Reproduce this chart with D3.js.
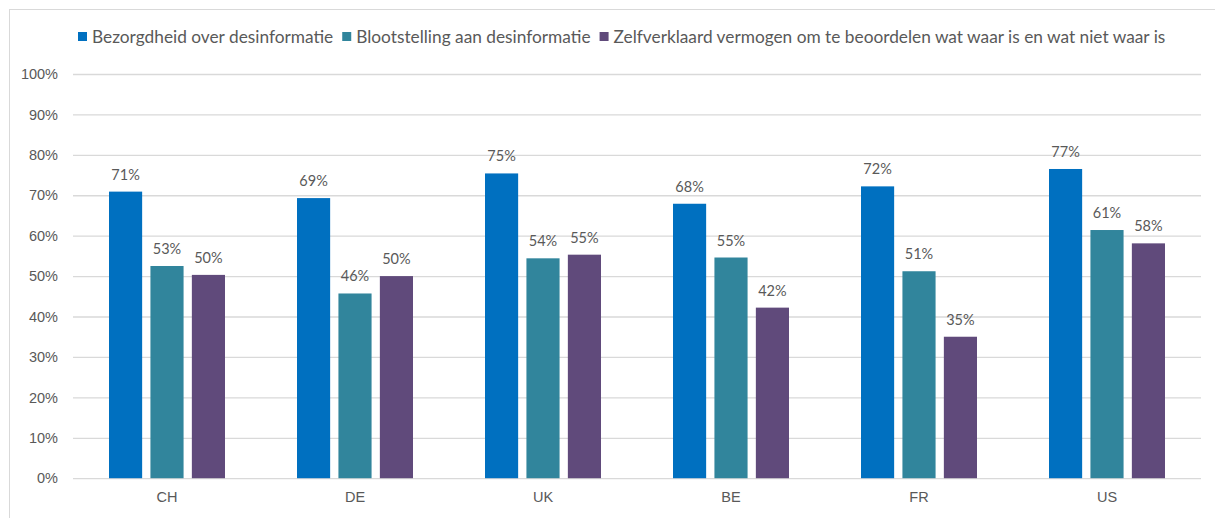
<!DOCTYPE html>
<html>
<head>
<meta charset="utf-8">
<script src="https://cdn.jsdelivr.net/npm/d3@7"></script>
<style>
    body { margin: 0; background: #fff; }
    svg { display: block; font-family: Lato, "Open Sans", sans-serif; }
</style>
</head>
<body>
<div id="chart"></div>
<script>
// data
var categories = ["CH", "DE", "UK", "BE", "FR", "US"];
var seriesNames = [
    "Bezorgdheid over desinformatie",
    "Blootstelling aan desinformatie",
    "Zelfverklaard vermogen om te beoordelen wat waar is en wat niet waar is"
];
var bezorgdheid = [70.9, 69.3, 75.4, 67.9, 72.2, 76.5];
var blootstelling = [52.5, 45.7, 54.4, 54.6, 51.2, 61.4];
var zelfverklaard = [50.3, 50.0, 55.3, 42.2, 35.0, 58.1];
var yTicks = [0, 10, 20, 30, 40, 50, 60, 70, 80, 90, 100];
var colors = ["#0070C0", "#31859C", "#604A7B"];

var width = 1215;
var height = 518;
var margin = { top: 74, right: 14, bottom: 39, left: 73 };

var svg = d3.select("#chart").append("svg")
    .attr("width", width)
    .attr("height", height);

// chart border
svg.append("rect")
    .attr("x", 9.5)
    .attr("y", 9.5)
    .attr("width", width + 20)
    .attr("height", height + 20)
    .attr("fill", "none")
    .attr("stroke", "#d9d9d9");

var x0 = d3.scaleBand()
    .domain(categories)
    .range([margin.left, width - margin.right])
    .paddingInner(0.383)
    .paddingOuter(0.1915);

var x1 = d3.scaleBand()
    .domain([0, 1, 2])
    .range([0, x0.bandwidth()])
    .paddingInner(0.2);

var y = d3.scaleLinear()
    .domain([0, 100])
    .range([height - margin.bottom - 0.8, margin.top]);

// gridlines
var yAxis = d3.axisLeft(y)
    .tickValues(yTicks)
    .tickSize(-(width - margin.left - margin.right))
    .tickPadding(15)
    .tickFormat(function (d) { return d + "%"; });

var gy = svg.append("g")
    .attr("transform", "translate(" + margin.left + ",0)")
    .call(yAxis);
gy.select(".domain").remove();
gy.selectAll(".tick line").attr("stroke", "#d9d9d9").attr("stroke-width", 1.3);
gy.selectAll(".tick text")
    .attr("fill", "#595959")
    .attr("font-size", 14.5);

// category labels
var xAxis = d3.axisBottom(x0).tickSize(0).tickPadding(14);
var gx = svg.append("g")
    .attr("transform", "translate(0," + y(0) + ")")
    .call(xAxis);
gx.select(".domain").remove();
gx.selectAll(".tick text")
    .attr("fill", "#595959")
    .attr("font-size", 14.5);

// bars
var rows = categories.map(function (c, i) {
    return [bezorgdheid[i], blootstelling[i], zelfverklaard[i]];
});

var groups = svg.selectAll(".grp")
    .data(rows)
    .enter()
    .append("g")
    .attr("class", "grp")
    .attr("transform", function (d, i) {
        return "translate(" + x0(categories[i]) + ",0)";
    });

groups.selectAll("rect")
    .data(function (d) { return d; })
    .enter()
    .append("rect")
    .attr("x", function (d, i) { return x1(i); })
    .attr("y", function (d) { return y(d); })
    .attr("width", x1.bandwidth())
    .attr("height", function (d) { return y(0) - y(d); })
    .attr("fill", function (d, i) { return colors[i]; });

groups.selectAll("text")
    .data(function (d) { return d; })
    .enter()
    .append("text")
    .attr("x", function (d, i) { return x1(i) + x1.bandwidth() / 2; })
    .attr("y", function (d) { return y(d) - 12; })
    .attr("text-anchor", "middle")
    .attr("font-size", 14.5)
    .attr("fill", "#595959")
    .text(function (d) { return Math.round(d) + "%"; });

// legend
var legend = svg.append("g").attr("transform", "translate(78,37)");
var lx = 0;
seriesNames.forEach(function (name, i) {
    var item = legend.append("g").attr("transform", "translate(" + lx + ",0)");
    item.append("rect")
        .attr("x", 0)
        .attr("y", -5)
        .attr("width", 9)
        .attr("height", 9)
        .attr("fill", colors[i]);
    var t = item.append("text")
        .attr("x", 14)
        .attr("y", 0)
        .attr("dy", "0.35em")
        .attr("font-size", 17.3)
        .attr("fill", "#595959")
        .text(name);
    lx += 14 + t.node().getComputedTextLength() + 9;
});
</script>
</body>
</html>
